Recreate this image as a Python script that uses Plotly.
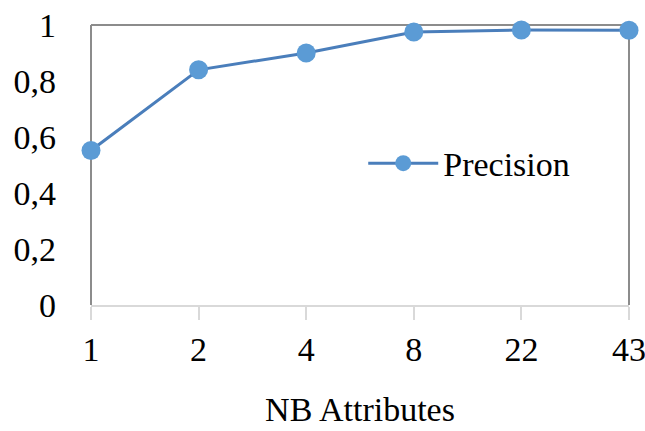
import plotly.graph_objects as go

categories = ["1", "2", "4", "8", "22", "43"]
precision = [0.552, 0.84, 0.90, 0.975, 0.982, 0.981]
y_ticks = [0, 0.2, 0.4, 0.6, 0.8, 1.0]
y_tick_labels = ["0", "0,2", "0,4", "0,6", "0,8", "1"]

FONT = "Liberation Serif"
FS = 34

fig = go.Figure()
fig.add_trace(go.Scatter(
    x=categories, y=precision, name="Precision", mode="lines+markers",
    line=dict(color="#4a7ebb", width=3),
    marker=dict(color="#5b9bd5", size=19),
    cliponaxis=False,
))

fig.update_layout(
    width=645, height=431,
    margin=dict(l=91, r=16, t=25, b=126),
    paper_bgcolor="white", plot_bgcolor="white",
    font=dict(family=FONT, size=FS, color="#000000"),
    showlegend=True,
    legend=dict(x=0.506, y=0.505, xanchor="left", yanchor="middle",
                bgcolor="rgba(0,0,0,0)", font=dict(family=FONT, size=FS),
                itemwidth=70),
    xaxis=dict(
        type="category", range=[0, 5], showgrid=False, zeroline=False,
        automargin=False,
        showline=True, linecolor="#d9d9d9", linewidth=2,
        ticks="outside", ticklen=13, tickcolor="#d9d9d9", tickwidth=2,
        title=dict(text="NB Attributes", font=dict(family=FONT, size=FS), standoff=30),
        tickfont=dict(family=FONT, size=FS),
    ),
    yaxis=dict(
        range=[0, 1], tickvals=y_ticks, ticktext=y_tick_labels,
        showgrid=False, zeroline=False, showline=False, automargin=False,
        ticklabelstandoff=34, tickfont=dict(family=FONT, size=FS),
    ),
    shapes=[
        dict(type="line", xref="paper", yref="paper", x0=0, x1=0, y0=0, y1=1,
             line=dict(color="#8c8c8c", width=2), layer="below"),
        dict(type="line", xref="paper", yref="paper", x0=0, x1=1, y0=1, y1=1,
             line=dict(color="#8c8c8c", width=2), layer="below"),
        dict(type="line", xref="paper", yref="paper", x0=1, x1=1, y0=0, y1=1,
             line=dict(color="#8c8c8c", width=2), layer="below"),
    ],
)

fig.write_html("out.html")
